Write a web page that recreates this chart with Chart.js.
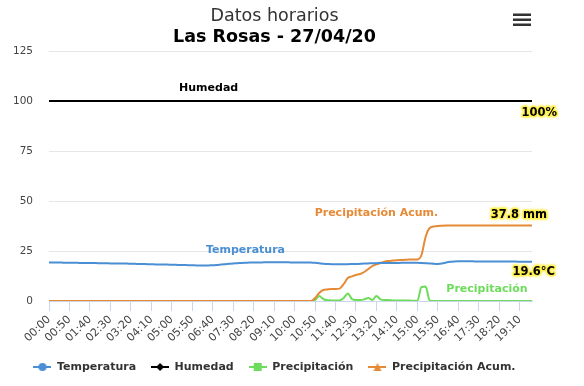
<!DOCTYPE html>
<html>
<head>
<meta charset="utf-8">
<script src="https://cdn.jsdelivr.net/npm/chart.js@4.4.0/dist/chart.umd.min.js"></script>
<style>
  html, body { margin: 0; padding: 0; background: #fff; }
  #wrap { width: 584px; height: 386px; }
</style>
</head>
<body>
<div id="wrap"><canvas id="myChart" width="584" height="386"></canvas></div>
<script>
// horas cada 10 minutos, 00:00 .. 19:40
const horas = [];
for (let m = 0; m <= 1180; m += 10) {
    horas.push(String(Math.floor(m / 60)).padStart(2, '0') + ':' + String(m % 60).padStart(2, '0'));
}

const yTicks = [0, 25, 50, 75, 100, 125];

const temperatura = [
    19.2, 19.2, 19.2, 19.2, 19.1, 19.1, 19.1, 19.1, 19.0, 19.0,
    19.0, 19.0, 18.9, 18.9, 18.9, 18.8, 18.8, 18.8, 18.7, 18.7,
    18.6, 18.6, 18.5, 18.5, 18.4, 18.4, 18.3, 18.3, 18.2, 18.2,
    18.1, 18.1, 18.0, 18.0, 17.9, 17.9, 17.8, 17.8, 17.7, 17.8,
    17.9, 18.0, 18.2, 18.4, 18.6, 18.8, 18.9, 19.0, 19.1, 19.2,
    19.3, 19.3, 19.3, 19.4, 19.4, 19.4, 19.4, 19.4, 19.4, 19.3,
    19.3, 19.3, 19.3, 19.3, 19.2, 19.1, 18.9, 18.6, 18.5, 18.4,
    18.4, 18.4, 18.4, 18.4, 18.5, 18.5, 18.6, 18.7, 18.8, 18.9,
    18.9, 19.0, 19.0, 19.0, 19.0, 19.0, 19.1, 19.1, 19.1, 19.1,
    19.1, 19.0, 18.9, 18.8, 18.6, 18.5, 18.7, 19.2, 19.6, 19.8,
    19.9, 19.9, 19.9, 19.9, 19.8, 19.8, 19.8, 19.8, 19.8, 19.8,
    19.8, 19.7, 19.7, 19.7, 19.7, 19.6, 19.6, 19.6, 19.6
];

const humedad = [
    100, 100, 100, 100, 100, 100, 100, 100, 100, 100,
    100, 100, 100, 100, 100, 100, 100, 100, 100, 100,
    100, 100, 100, 100, 100, 100, 100, 100, 100, 100,
    100, 100, 100, 100, 100, 100, 100, 100, 100, 100,
    100, 100, 100, 100, 100, 100, 100, 100, 100, 100,
    100, 100, 100, 100, 100, 100, 100, 100, 100, 100,
    100, 100, 100, 100, 100, 100, 100, 100, 100, 100,
    100, 100, 100, 100, 100, 100, 100, 100, 100, 100,
    100, 100, 100, 100, 100, 100, 100, 100, 100, 100,
    100, 100, 100, 100, 100, 100, 100, 100, 100, 100,
    100, 100, 100, 100, 100, 100, 100, 100, 100, 100,
    100, 100, 100, 100, 100, 100, 100, 100, 100
];

const precipitacion = [
    0, 0, 0, 0, 0, 0, 0, 0, 0, 0,
    0, 0, 0, 0, 0, 0, 0, 0, 0, 0,
    0, 0, 0, 0, 0, 0, 0, 0, 0, 0,
    0, 0, 0, 0, 0, 0, 0, 0, 0, 0,
    0, 0, 0, 0, 0, 0, 0, 0, 0, 0,
    0, 0, 0, 0, 0, 0, 0, 0, 0, 0,
    0, 0, 0, 0, 0, 0.5, 2.5, 1.0, 0.4, 0.3,
    0.2, 0.3, 1.5, 3.8, 1.0, 0.5, 0.5, 0.8, 1.5, 0.5,
    2.5, 0.8, 0.5, 0.5, 0.3, 0.3, 0.2, 0.2, 0.2, 0.1,
    0.1, 7.0, 7.2, 0.3, 0, 0, 0, 0, 0, 0,
    0, 0, 0, 0, 0, 0, 0, 0, 0, 0,
    0, 0, 0, 0, 0, 0, 0, 0, 0
];

const precipAcum = [
    0, 0, 0, 0, 0, 0, 0, 0, 0, 0,
    0, 0, 0, 0, 0, 0, 0, 0, 0, 0,
    0, 0, 0, 0, 0, 0, 0, 0, 0, 0,
    0, 0, 0, 0, 0, 0, 0, 0, 0, 0,
    0, 0, 0, 0, 0, 0, 0, 0, 0, 0,
    0, 0, 0, 0, 0, 0, 0, 0, 0, 0,
    0, 0, 0, 0, 0, 1.5, 4.0, 5.5, 5.8, 6.0,
    6.0, 6.2, 8.5, 11.5, 12.3, 13.0, 13.5, 14.5, 16.0, 17.5,
    18.3, 19.0, 19.7, 20.0, 20.2, 20.4, 20.5, 20.6, 20.7, 20.8,
    20.8, 23.0, 32.0, 36.5, 37.2, 37.5, 37.6, 37.7, 37.8, 37.8,
    37.8, 37.8, 37.8, 37.8, 37.8, 37.8, 37.8, 37.8, 37.8, 37.8,
    37.8, 37.8, 37.8, 37.8, 37.8, 37.8, 37.8, 37.8, 37.8
];

const azul = '#4a8fd4';
const negro = '#000000';
const verde = '#6cdc5a';
const naranja = '#e68a36';
const fuente = '"DejaVu Sans", Tahoma, Verdana, sans-serif';

// icono de leyenda: linea + marcador
function icono(color, forma) {
    const c = document.createElement('canvas');
    c.width = 18; c.height = 10;
    const g = c.getContext('2d');
    g.strokeStyle = color;
    g.lineWidth = 2;
    g.beginPath(); g.moveTo(0, 5); g.lineTo(18, 5); g.stroke();
    g.fillStyle = color;
    g.beginPath();
    if (forma === 'circle') {
        g.arc(9, 5, 4, 0, Math.PI * 2);
    } else if (forma === 'diamond') {
        g.moveTo(9, 1); g.lineTo(13, 5); g.lineTo(9, 9); g.lineTo(5, 5); g.closePath();
    } else if (forma === 'square') {
        g.rect(5, 1, 8, 8);
    } else {
        g.moveTo(9, 1); g.lineTo(13, 9); g.lineTo(5, 9); g.closePath();
    }
    g.fill();
    return c;
}

// desplaza titulo y leyenda para centrarlos como en el original
const centrar = {
    id: 'centrar',
    afterLayout(chart) {
        [chart.titleBlock, chart.legend].forEach(b => { if (b) b.left += 17; });
        const sub = chart.boxes.find(b => b !== chart.titleBlock && b.options && b.options.text === 'Las Rosas - 27/04/20');
        if (sub) sub.left += 17;
    }
};

// etiquetas sobre las series
const etiquetas = {
    id: 'etiquetas',
    afterDatasetsDraw(chart) {
        const ctx = chart.ctx;
        const x = chart.scales.x;
        const y = chart.scales.y;
        const ult = horas.length - 1;
        ctx.save();
        ctx.font = 'bold 11px ' + fuente;
        ctx.textBaseline = 'middle';
        ctx.textAlign = 'center';

        ctx.fillStyle = negro;
        ctx.fillText('Humedad', x.getPixelForValue(39), y.getPixelForValue(humedad[39]) - 13);
        ctx.fillStyle = azul;
        ctx.fillText('Temperatura', x.getPixelForValue(48), y.getPixelForValue(temperatura[48]) - 13);
        ctx.fillStyle = naranja;
        ctx.fillText('Precipitación Acum.', x.getPixelForValue(80), y.getPixelForValue(Math.max(...precipAcum)) - 12);
        ctx.fillStyle = verde;
        ctx.fillText('Precipitación', x.getPixelForValue(107), y.getPixelForValue(0) - 12);

        // valores finales con contorno amarillo
        const finales = [
            [precipAcum[ult].toFixed(1) + ' mm', precipAcum[ult], 15, -10],
            [temperatura[ult].toFixed(1) + '°C', temperatura[ult], 23, 10],
            [humedad[ult] + '%', humedad[ult], 25, 12]
        ];
        ctx.textAlign = 'right';
        ctx.font = 'bold 11.5px ' + fuente;
        ctx.lineJoin = 'round';
        finales.forEach(f => {
            const px = x.getPixelForValue(ult) + f[2];
            const py = y.getPixelForValue(f[1]) + f[3];
            ctx.save();
            ctx.shadowColor = 'rgba(255, 230, 0, 0.9)';
            ctx.shadowBlur = 3;
            ctx.strokeStyle = 'rgba(255, 240, 60, 0.7)';
            ctx.lineWidth = 3;
            ctx.strokeText(f[0], px, py);
            ctx.restore();
            ctx.fillStyle = negro;
            ctx.fillText(f[0], px, py);
        });

        // boton de menu
        ctx.fillStyle = '#333333';
        [13.5, 18.5, 23.5].forEach(by => ctx.fillRect(513, by, 18, 2.5));
        ctx.restore();
    }
};

const canvas = document.getElementById('myChart');
const ctx = canvas.getContext('2d');

const data = {
    labels: horas,
    datasets: [
        { label: 'Temperatura', data: temperatura, borderColor: azul, backgroundColor: azul, order: 0, pointStyle: icono(azul, 'circle') },
        { label: 'Humedad', data: humedad, borderColor: negro, backgroundColor: negro, order: 3, pointStyle: icono(negro, 'diamond') },
        { label: 'Precipitación', data: precipitacion, borderColor: verde, backgroundColor: verde, order: 2, pointStyle: icono(verde, 'square') },
        { label: 'Precipitación Acum.', data: precipAcum, borderColor: naranja, backgroundColor: naranja, order: 1, pointStyle: icono(naranja, 'triangle') }
    ]
};

var myChart = new Chart(ctx, {
    type: 'line',
    data: data,
    plugins: [centrar, etiquetas],
    options: {
        responsive: false,
        animation: false,
        events: [],
        layout: { padding: { top: 0, left: 0, right: 52, bottom: 3.5 } },
        elements: {
            line: { borderWidth: 2, tension: 0.4, cubicInterpolationMode: 'monotone' },
            point: { radius: 0, hoverRadius: 0 }
        },
        scales: {
            x: {
                offset: false,
                afterBuildTicks: s => { s.ticks = s.ticks.filter(t => t.value % 5 === 0); },
                afterFit: s => { s.height = 45.5; },
                ticks: { autoSkip: false, minRotation: 45, maxRotation: 45, color: '#444444', padding: 2, font: { family: fuente, size: 11 } },
                grid: { display: true, drawOnChartArea: false, drawTicks: true, tickLength: 10, color: '#ccd6eb' },
                border: { display: true, color: '#ccd6eb' }
            },
            y: {
                min: 0,
                max: 125,
                afterBuildTicks: s => { s.ticks = yTicks.map(v => ({ value: v })); },
                afterFit: s => { s.width = 49; },
                ticks: { color: '#444444', padding: 16, font: { family: fuente, size: 10.5 } },
                grid: { color: '#e6e6e6', drawTicks: false },
                border: { display: false }
            }
        },
        plugins: {
            title: {
                display: true,
                text: 'Datos horarios',
                color: '#333333',
                font: { family: fuente, size: 17.5, weight: 'normal' },
                padding: { top: 5.5, bottom: 0 }
            },
            subtitle: {
                display: true,
                text: 'Las Rosas - 27/04/20',
                color: '#000000',
                font: { family: fuente, size: 17.5, weight: 'bold' },
                padding: { top: 0.5, bottom: 3 }
            },
            legend: {
                position: 'bottom',
                labels: {
                    usePointStyle: true,
                    pointStyleWidth: 18,
                    padding: 15,
                    color: '#333333',
                    font: { family: fuente, size: 11, weight: 'bold' },
                    sort: (a, b) => a.datasetIndex - b.datasetIndex
                }
            },
            tooltip: { enabled: false }
        }
    }
});
</script>
</body>
</html>
